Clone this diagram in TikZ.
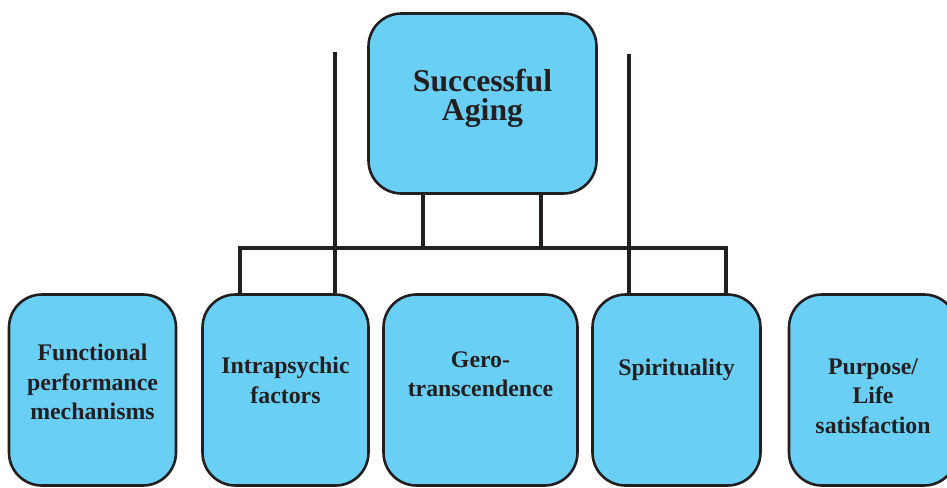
\documentclass[tikz,border=0pt]{standalone}
\usepackage{fontspec}
\setmainfont{Liberation Serif}
\begin{document}
\definecolor{boxfill}{HTML}{6ACFF5}
\definecolor{ink}{HTML}{231F20}
\begin{tikzpicture}[x=1pt,y=-1pt,
  box/.style={draw=ink,fill=boxfill,line width=2.6pt,rounded corners=33pt,
    rectangle,inner sep=0pt},
  conn/.style={draw=ink,line width=4.4pt,line join=miter,line cap=butt},
  headtxt/.style={text=ink,font=\bfseries\fontsize{31.7}{29}\selectfont,
    align=center,inner sep=0pt},
  subtxt/.style={text=ink,font=\bfseries\fontsize{23.8}{29.3}\selectfont,
    align=center,inner sep=0pt}]
\useasboundingbox (0,0) rectangle (947,487);
\clip (0,0) rectangle (947,487);

% boxes
\node[box,minimum width=228pt,minimum height=180pt] (sa) at (482.5,103.5) {};
\node[box,minimum width=167pt,minimum height=191pt] (fp) at (92.5,390) {};
\node[box,minimum width=166pt,minimum height=191pt] (ip) at (285.5,390) {};
\node[box,minimum width=194pt,minimum height=191pt] (gt) at (480.5,390) {};
\node[box,minimum width=168pt,minimum height=191pt] (sp) at (676.5,390) {};
\node[box,minimum width=168pt,minimum height=191pt] (pl) at (873,390) {};

% labels
\node[headtxt] (saT) at (482.5,98) {Successful\\Aging};
\node[subtxt] (fpT) at (92.5,382) {Functional\\performance\\mechanisms};
\node[subtxt] (ipT) at (285.5,380.5) {Intrapsychic\\factors};
\node[subtxt] (gtT) at (480.5,374) {Gero-\\transcendence};
\node[subtxt] (spT) at (676.5,369.5) {Spirituality};
\node[subtxt] (plT) at (873,396) {Purpose/\\Life\\satisfaction};

% connector anchor points
\coordinate (legL) at (423,248);
\coordinate (legR) at (541,248);
\coordinate (barL) at (240,248);
\coordinate (barR) at (726,248);
\coordinate (topL) at (335,52);
\coordinate (topR) at (629,54);

% connectors
\draw[conn] (legL |- sa.south) -- (legL);
\draw[conn] (legR |- sa.south) -- (legR);
\draw[conn] (barL |- ip.north) -- (barL) -- (barR) -- (barR |- sp.north);
\draw[conn] (topL) -- (topL |- ip.north);
\draw[conn] (topR) -- (topR |- sp.north);
\end{tikzpicture}
\end{document}
